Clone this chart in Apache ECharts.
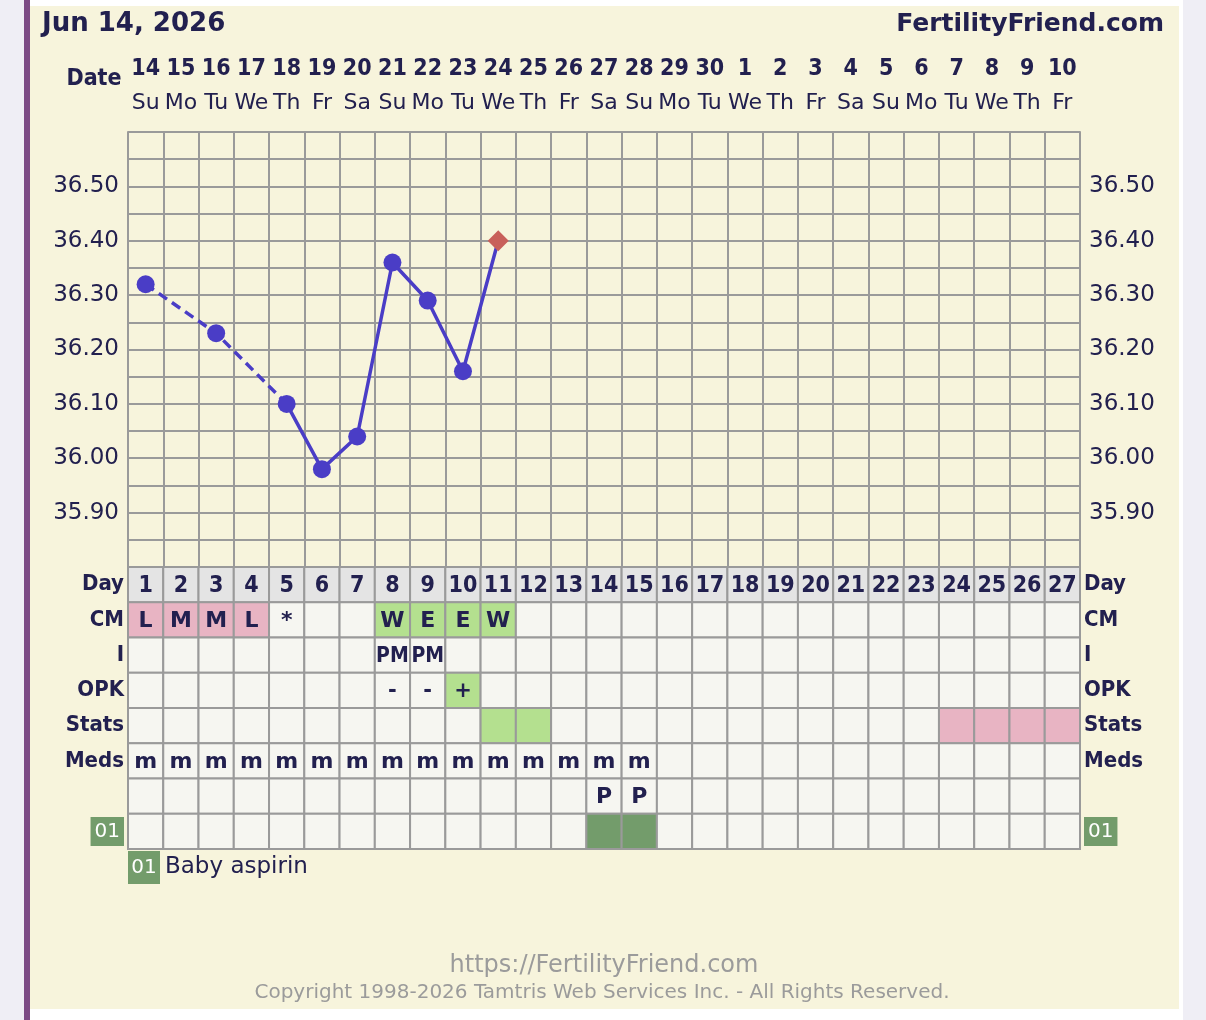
<!DOCTYPE html>
<html><head><meta charset="utf-8">
<script src="https://cdn.jsdelivr.net/npm/echarts@6/dist/echarts.min.js"></script>
<style>html,body{margin:0;padding:0;background:#efeef5;overflow:hidden;} #c{width:1206px;height:1020px;}</style>
</head><body><div id="c"></div><script>
// ---------- data ----------
const dates = ['14','15','16','17','18','19','20','21','22','23','24','25','26','27','28','29','30','1','2','3','4','5','6','7','8','9','10'];
const weekdays = ['Su','Mo','Tu','We','Th','Fr','Sa','Su','Mo','Tu','We','Th','Fr','Sa','Su','Mo','Tu','We','Th','Fr','Sa','Su','Mo','Tu','We','Th','Fr'];
const cycleDays = ['1','2','3','4','5','6','7','8','9','10','11','12','13','14','15','16','17','18','19','20','21','22','23','24','25','26','27'];
const temps = [36.32, null, 36.23, null, 36.10, 35.98, 36.04, 36.36, 36.29, 36.16, 36.40];
const tempSymbols = ['circle', null, 'circle', null, 'circle', 'circle', 'circle', 'circle', 'circle', 'circle', 'diamond'];
const yTicks = [35.90, 36.00, 36.10, 36.20, 36.30, 36.40, 36.50];
const rowLabels = ['Day', 'CM', 'I', 'OPK', 'Stats', 'Meds', '', '01'];
const cmText = ['L','M','M','L','*','','','W','E','E','W'];
const cmFill = ['pink','pink','pink','pink','','','','green','green','green','green'];
const intercourse = ['','','','','','','','PM','PM'];
const opkText = ['','','','','','','','-','-','+'];
const opkFill = ['','','','','','','','','','green'];
const statsFill = ['','','','','','','','','','','green','green','','','','','','','','','','','','pink','pink','pink','pink'];
const medsText = ['m','m','m','m','m','m','m','m','m','m','m','m','m','m','m'];
const extraText = ['','','','','','','','','','','','','','P','P'];
const med01Fill = ['','','','','','','','','','','','','','dark','dark'];
const legendCode = '01';
const legendName = 'Baby aspirin';

// ---------- styling ----------
const NAVY = '#22204f';
const GRID = '#9a9a9a';
const FILLS = { '': '#f6f6f1', pink: '#e8b4c3', green: '#b4e08f', dark: '#739c6b', day: '#e4e4e4' };
const SANS = '"DejaVu Sans", Verdana, sans-serif';
const COND = '"DejaVu Sans Condensed", "DejaVu Sans", sans-serif';

// build table cells
const cells = [];
function addRow(r, n, textArr, fillArr, font) {
  for (let i = 0; i < n; i++) {
    cells.push({ value: [i, r], text: (textArr && textArr[i]) || '', fill: FILLS[(fillArr && fillArr[i]) || ''], font: font });
  }
}
const N = dates.length;
for (let i = 0; i < N; i++) cells.push({ value: [i, 0], text: cycleDays[i], fill: FILLS.day, font: 'bold 23px ' + COND });
addRow(1, N, cmText, cmFill, 'bold 22px ' + SANS);
addRow(2, N, intercourse, null, 'bold 21px ' + COND);
addRow(3, N, opkText, opkFill, 'bold 21px ' + SANS);
addRow(4, N, null, statsFill, 'bold 21px ' + SANS);
addRow(5, N, medsText, null, 'bold 22px ' + SANS);
addRow(6, N, extraText, null, 'bold 22px ' + SANS);
addRow(7, N, null, med01Fill, 'bold 22px ' + SANS);

// temperature segments: dashed across missing days, solid for consecutive days
const pts = [];
temps.forEach((v, i) => { if (v != null) pts.push(i); });
const lineSeries = [];
let run = [pts[0]], runDashed = null;
for (let k = 1; k < pts.length; k++) {
  const dashed = pts[k] - pts[k - 1] > 1;
  if (runDashed === null || dashed === runDashed) { run.push(pts[k]); runDashed = dashed; }
  else { lineSeries.push({ idx: run, dashed: runDashed }); run = [pts[k - 1], pts[k]]; runDashed = dashed; }
}
lineSeries.push({ idx: run, dashed: runDashed });

const series = lineSeries.map(s => ({
  type: 'line', xAxisIndex: 0, yAxisIndex: 0, symbol: 'none', silent: true, z: 3,
  data: s.idx.map(i => [i, temps[i]]),
  lineStyle: { color: '#4a3dc6', width: 3.5, type: s.dashed ? [10, 6] : 'solid' }
}));
series.push({
  type: 'scatter', xAxisIndex: 0, yAxisIndex: 0, z: 4, silent: true,
  data: pts.map(i => ({
    value: [i, temps[i]], symbol: tempSymbols[i],
    symbolSize: tempSymbols[i] === 'diamond' ? 21 : 18,
    itemStyle: { color: tempSymbols[i] === 'diamond' ? '#c8605a' : '#4a3dc6', opacity: 1 }
  }))
});
series.push({
  type: 'custom', xAxisIndex: 1, yAxisIndex: 2, silent: true, z: 2,
  data: cells.map(c => c.value),
  renderItem(params, api) {
    const c = api.coord([api.value(0), api.value(1)]);
    const s = api.size([1, 1]);
    const cell = cells[params.dataIndex];
    return { type: 'group', children: [
      { type: 'rect', shape: { x: c[0] - s[0] / 2, y: c[1] - s[1] / 2, width: s[0], height: s[1] },
        style: { fill: cell.fill, stroke: GRID, lineWidth: 2 } },
      { type: 'text', style: { text: cell.text, x: c[0], y: c[1] + 1, align: 'center', verticalAlign: 'middle', font: cell.font, fill: NAVY } }
    ] };
  }
});

const rowLabelRich = { box: { backgroundColor: '#739c6b', color: '#ffffff', fontSize: 20, fontFamily: SANS, fontWeight: 'normal', padding: [5, 4, 4, 4] } };
function rowLabelFmt(v) { return v === legendCode ? '{box|' + v + '}' : v; }
const isTick = v => yTicks.some(t => Math.abs(t - v) < 1e-6);

const chart = echarts.init(document.getElementById('c'), null, { renderer: 'canvas' });
chart.setOption({
  animation: false,
  backgroundColor: '#efeef5',
  graphic: [
    { type: 'rect', z: -10, shape: { x: 24, y: 0, width: 6, height: 1020 }, style: { fill: '#7c4a84' } },
    { type: 'rect', z: -10, shape: { x: 30, y: 0, width: 1153, height: 1020 }, style: { fill: '#ffffff' } },
    { type: 'rect', z: -9, shape: { x: 30, y: 6, width: 1149, height: 1003 }, style: { fill: '#f7f4dc' } },
    { type: 'text', z: 5, style: { text: 'Jun 14, 2026', x: 42, y: 24, verticalAlign: 'middle', font: 'bold 26px ' + SANS, fill: NAVY } },
    { type: 'text', z: 5, style: { text: 'FertilityFriend.com', x: 1164, y: 24, align: 'right', verticalAlign: 'middle', font: 'bold 25px ' + SANS, fill: NAVY } },
    { type: 'text', z: 5, style: { text: 'Date', x: 94, y: 79, align: 'center', verticalAlign: 'middle', font: 'bold 23px ' + COND, fill: NAVY } },
    { type: 'rect', z: 5, shape: { x: 128, y: 851, width: 32, height: 33 }, style: { fill: '#739c6b' } },
    { type: 'text', z: 6, style: { text: legendCode, x: 144, y: 868, align: 'center', verticalAlign: 'middle', font: '20px ' + SANS, fill: '#ffffff' } },
    { type: 'text', z: 5, style: { text: legendName, x: 165, y: 867, verticalAlign: 'middle', font: '23px ' + SANS, fill: NAVY } },
    { type: 'text', z: 5, style: { text: 'https://FertilityFriend.com', x: 604, y: 966, align: 'center', verticalAlign: 'middle', font: '24px ' + SANS, fill: '#9b9b9b' } },
    { type: 'text', z: 5, style: { text: 'Copyright 1998-2026 Tamtris Web Services Inc. - All Rights Reserved.', x: 602, y: 993, align: 'center', verticalAlign: 'middle', font: '20px ' + SANS, fill: '#9b9b9b' } }
  ],
  grid: [
    { left: 128, top: 132, width: 952, height: 435 },
    { left: 128, top: 567, width: 952, height: 282 }
  ],
  xAxis: [
    { type: 'category', gridIndex: 0, position: 'top', data: dates, boundaryGap: true,
      axisLine: { show: false }, axisTick: { show: false },
      splitLine: { show: true, interval: 0, lineStyle: { color: GRID, width: 2 } },
      axisLabel: { interval: 0, margin: 12, formatter: (v, i) => '{d|' + v + '}\n{w|' + weekdays[i] + '}',
        rich: { d: { fontSize: 23, fontWeight: 'bold', fontFamily: COND, color: NAVY, lineHeight: 34 },
                w: { fontSize: 22, fontFamily: SANS, color: NAVY, lineHeight: 34 } } } },
    { type: 'category', gridIndex: 1, data: cycleDays, boundaryGap: true, show: false }
  ],
  yAxis: [
    { type: 'value', gridIndex: 0, min: 35.8, max: 36.6, interval: 0.05, position: 'left',
      axisLine: { show: true, lineStyle: { color: GRID, width: 2 } }, axisTick: { show: false },
      splitLine: { show: true, lineStyle: { color: GRID, width: 2 } },
      axisLabel: { margin: 9, color: NAVY, fontSize: 23, fontFamily: SANS, formatter: v => isTick(v) ? v.toFixed(2) : '' } },
    { type: 'value', gridIndex: 0, min: 35.8, max: 36.6, interval: 0.05, position: 'right',
      axisLine: { show: true, lineStyle: { color: GRID, width: 2 } }, axisTick: { show: false },
      splitLine: { show: false },
      axisLabel: { margin: 9, color: NAVY, fontSize: 23, fontFamily: SANS, formatter: v => isTick(v) ? v.toFixed(2) : '' } },
    { type: 'category', gridIndex: 1, inverse: true, data: rowLabels, position: 'left',
      axisLine: { show: false }, axisTick: { show: false }, splitLine: { show: false },
      axisLabel: { interval: 0, margin: 4, color: NAVY, fontSize: 22, fontWeight: 'bold', fontFamily: COND, formatter: rowLabelFmt, rich: rowLabelRich } },
    { type: 'category', gridIndex: 1, inverse: true, data: rowLabels, position: 'right',
      axisLine: { show: false }, axisTick: { show: false }, splitLine: { show: false },
      axisLabel: { interval: 0, margin: 4, color: NAVY, fontSize: 22, fontWeight: 'bold', fontFamily: COND, formatter: rowLabelFmt, rich: rowLabelRich } }
  ],
  series: series
});
</script></body></html>
